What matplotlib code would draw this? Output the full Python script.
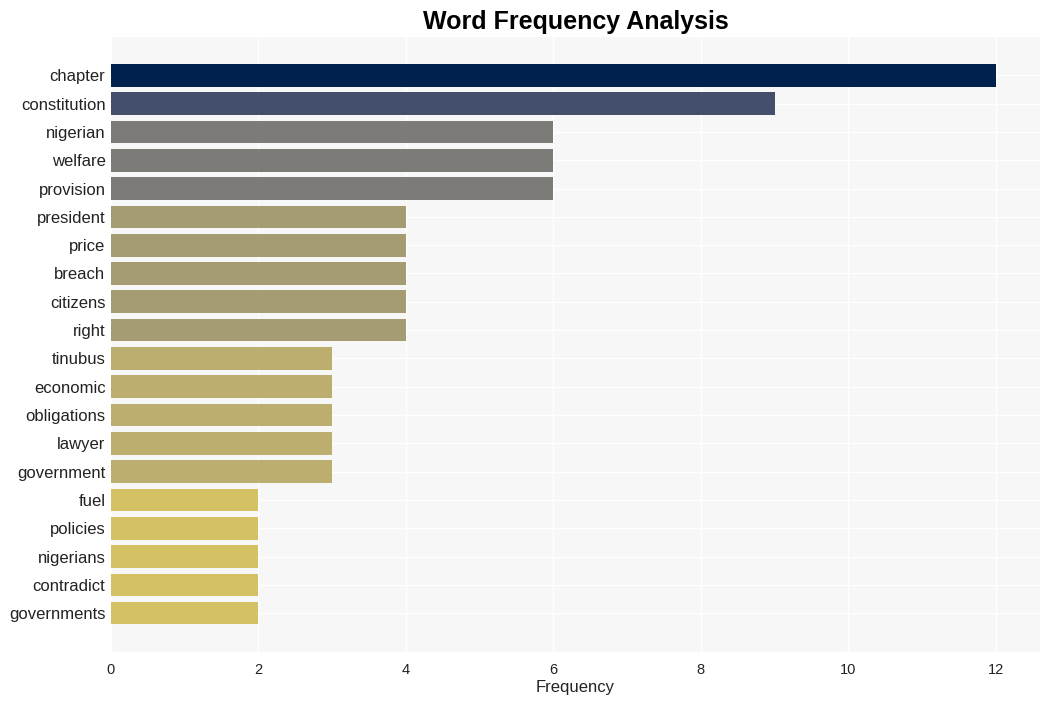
import numpy as np
import matplotlib.pyplot as plt

plt.rcParams['font.family'] = ['Liberation Sans', 'DejaVu Sans']

words = ['chapter', 'constitution', 'nigerian', 'welfare', 'provision',
         'president', 'price', 'breach', 'citizens', 'right',
         'tinubus', 'economic', 'obligations', 'lawyer', 'government',
         'fuel', 'policies', 'nigerians', 'contradict', 'governments']
counts = [12, 9, 6, 6, 6, 4, 4, 4, 4, 4, 3, 3, 3, 3, 3, 2, 2, 2, 2, 2]

# 頻度ごとの色
color_map = {12: '#00204d', 9: '#444f6b', 6: '#7c7b78',
             4: '#a59c74', 3: '#bcae6e', 2: '#d3c164'}
colors = [color_map[c] for c in counts]

fig = plt.figure(figsize=(10.51, 7.01), dpi=100)
ax = fig.add_axes([0.1056, 0.07, 0.884, 0.877])
ax.set_facecolor('#f7f7f7')

y = np.arange(len(words))
ax.barh(y, counts, height=0.8, color=colors, zorder=2)

ax.set_yticks(y)
ax.set_yticklabels(words, fontsize=12, color='#222222')
ax.set_ylim(len(words) - 1 + 1.37, -1.35)
ax.set_xlim(0, 12.6)
ax.set_xticks([0, 2, 4, 6, 8, 10, 12])
ax.tick_params(axis='x', labelsize=10.5, colors='#222222', length=0, pad=8)
ax.tick_params(axis='y', length=0, pad=4)

ax.grid(True, color='white', linewidth=1, zorder=0)
ax.set_axisbelow(True)
for s in ax.spines.values():
    s.set_visible(False)

ax.set_xlabel('Frequency', fontsize=12, color='#222222', labelpad=2)
ax.set_title('Word Frequency Analysis', fontsize=18, fontweight='bold', pad=6)

fig.savefig('out.png', dpi=100)
plt.close()
